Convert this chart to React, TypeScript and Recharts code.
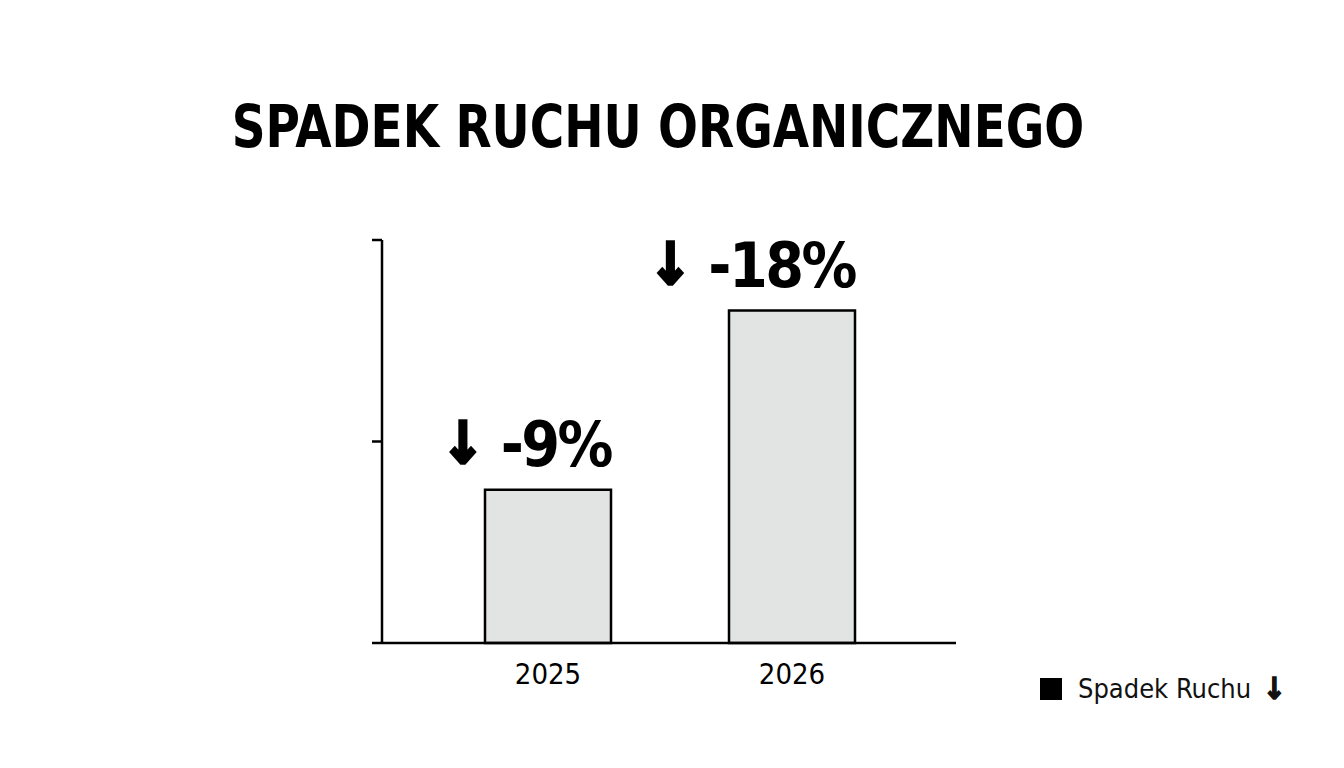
import { BarChart, Bar, XAxis, YAxis, LabelList, Legend } from 'recharts';

// Organic traffic drop per year
const years = ['2025', '2026'];
const drops = [7.6, 16.5];
const dropLabels = ['-9%', '-18%'];
const yTicks = [0, 10, 20];

const data = years.map((year, i) => ({ year, drop: drops[i] }));

const FONT = "'DejaVu Sans Condensed', 'DejaVu Sans', sans-serif";

const renderDrop = (props: any) => {
  const right = Number(props.x) + Number(props.width);
  const top = Number(props.y);
  return (
    <text
      x={right}
      y={top - 24}
      textAnchor="end"
      fontFamily={FONT}
      fontWeight={700}
      fill="#000"
    >
      <tspan fontSize={58} stroke="#000" strokeWidth={3} dy={-3}>↓</tspan>
      <tspan fontSize={62} dx={16} dy={3} letterSpacing={-2.5}>{dropLabels[props.index]}</tspan>
    </text>
  );
};

const renderLegend = () => (
  <div style={{ display: 'flex', alignItems: 'center', fontFamily: FONT, fontSize: 27, color: '#111' }}>
    <span style={{ width: 22, height: 22, background: '#000', display: 'inline-block', marginRight: 16 }} />
    <span>Spadek Ruchu</span>
    <span style={{ marginLeft: 12, fontWeight: 700, fontSize: 30, WebkitTextStroke: '1.5px #111' }}>↓</span>
  </div>
);

export default function App() {
  return (
    <div style={{ position: 'absolute', left: 0, top: 0, width: 1344, height: 768, background: '#fff' }}>
      <div
        style={{
          position: 'absolute',
          left: 0,
          width: 1316,
          top: 92,
          textAlign: 'center',
          fontFamily: FONT,
          fontWeight: 700,
          fontSize: 59,
          color: '#000',
          transform: 'scaleX(0.885)',
          transformOrigin: '658px 0',
        }}
      >
        SPADEK RUCHU ORGANICZNEGO
      </div>
      <BarChart
        width={1344}
        height={768}
        data={data}
        margin={{ top: 240, right: 388, bottom: 85, left: 372 }}
      >
        <XAxis
          dataKey="year"
          axisLine={{ stroke: '#000', strokeWidth: 2.5 }}
          tickLine={false}
          tickSize={0}
          tickMargin={20}
          height={40}
          padding={{ left: 44, right: 42 }}
          tick={{ fill: '#000', fontSize: 29, fontFamily: FONT }}
        />
        <YAxis
          width={10}
          domain={[0, 20]}
          ticks={yTicks}
          axisLine={{ stroke: '#000', strokeWidth: 2.5 }}
          tickLine={{ stroke: '#000', strokeWidth: 2.5 }}
          tickSize={10}
          tickFormatter={() => ''}
        />
        <Legend
          layout="vertical"
          align="center"
          verticalAlign="middle"
          content={renderLegend}
          wrapperStyle={{ position: 'absolute', left: 1040, top: 671, width: 'auto' }}
        />
        <Bar
          dataKey="drop"
          name="Spadek Ruchu"
          fill="#e2e3e3"
          stroke="#000"
          strokeWidth={2.5}
          barSize={126}
          isAnimationActive={false}
        >
          <LabelList dataKey="drop" content={renderDrop} />
        </Bar>
      </BarChart>
    </div>
  );
}
